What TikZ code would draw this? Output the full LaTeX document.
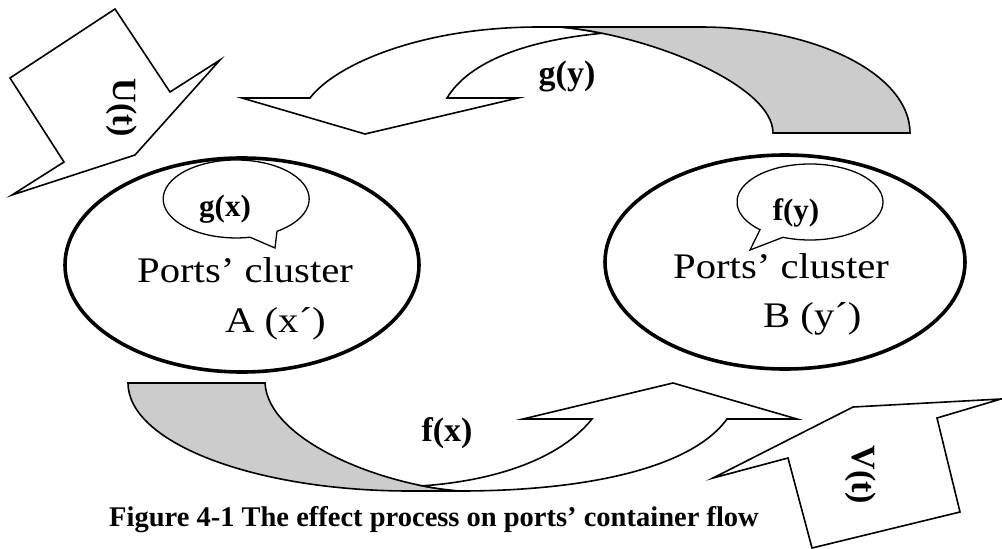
\documentclass[tikz,border=0pt]{standalone}
\usepackage{fontspec}
\setmainfont{Liberation Serif}
\newfontfamily\wideserif[FakeStretch=1.13]{Liberation Serif}
\usetikzlibrary{shapes.geometric}
\begin{document}
\begin{tikzpicture}[x=1pt,y=-1pt,
  arrowshape/.style={draw=black, line width=1.6pt, line join=miter, fill=white},
  backface/.style={draw=black, line width=1.6pt, fill=gray!40},
  cluster/.style={draw=black, line width=3.6pt, ellipse, inner sep=0pt},
  bubble/.style={draw=black, line width=1.3pt, fill=white},
  lbl/.style={font=\bfseries\fontsize{34}{40}\selectfont, inner sep=0pt},
  blbl/.style={font=\bfseries\fontsize{31}{36}\selectfont, inner sep=0pt},
  ctext/.style={font=\wideserif\fontsize{36}{42}\selectfont, inner sep=0pt, anchor=base west},
  captext/.style={font=\bfseries\fontsize{28.5}{34}\selectfont, inner sep=0pt, anchor=base west}
]
\useasboundingbox (0,0) rectangle (1002,549);

% top curved arrow g(y): front (white) part
\draw[arrowshape] (242,98) -- (310,98) .. controls (335,65) and (420,27) .. (539,27) -- (560,27)
  .. controls (573.5,28.2) and (587.7,30.3) .. (602,33.3)
  .. controls (530,40) and (470,60) .. (447,98) -- (518,98) -- (365,134) -- cycle;
% top curved arrow: back (grey) part
\draw[backface] (560,27) -- (700,27) .. controls (816,27) and (910,74.5) .. (910,133) -- (773,133)
  .. controls (773,85) and (650,35) .. (560,27) -- cycle;

% bottom curved arrow f(x): back (grey) part
\draw[backface] (128,383) -- (265,383) .. controls (268,440) and (380,485) .. (460,491) -- (410,491)
  .. controls (254.3,491) and (128,442.6) .. (128,383) -- cycle;
% bottom curved arrow: front (white) part
\draw[arrowshape] (422.4,485.8) .. controls (480,482) and (555,465) .. (592,419) -- (523,419) -- (673,383)
  -- (797,419) -- (727,419) .. controls (690,470) and (580,491) .. (460,491)
  .. controls (448,490.1) and (435.4,488.4) .. (422.4,485.8) -- cycle;

% U(t) block arrow
\draw[arrowshape] (115,9) -- (170,92) -- (220,60) -- (135,155) -- (12,195) -- (64,162) -- (10,78) -- cycle;
% V(t) block arrow
\draw[arrowshape] (713,478) -- (853,407) -- (1001,399) -- (937,418) -- (960,512) -- (812,548) -- (788,458) -- cycle;

% clusters
\node[cluster, minimum width=354pt, minimum height=214pt] (A) at (242,265) {};
\node[cluster, minimum width=360pt, minimum height=214pt] (B) at (785,262) {};

% speech bubbles
\draw[bubble] (277,231.3) arc[start angle=-56, end angle=281, x radius=73pt, y radius=39pt] -- (275,248) -- cycle;
\draw[bubble] (783,237.3) arc[start angle=248.3, end angle=586.8, x radius=73pt, y radius=38pt] -- (750,250) -- cycle;

% labels
\node[lbl, anchor=base] (gy) at (567,84) {g(y)};
\node[lbl, anchor=base] (fx) at (447,441) {f(x)};
\node[blbl, anchor=base] (gx) at (225,216) {g(x)};
\node[blbl, anchor=base] (fy) at (796,220) {f(y)};
\node[lbl, rotate=-90] (ut) at (122,108) {U(t)};
\node[lbl, rotate=-90] (vt) at (861,475) {V(t)};

\node[ctext] (a1) at (137,282) {Ports’ cluster};
\node[ctext] (a2) at (225,332) {A (x´)};
\node[ctext] (b1) at (673,278) {Ports’ cluster};
\node[ctext] (b2) at (763,327) {B (y´)};

\node[captext] (cap) at (109,526) {Figure 4-1 The effect process on ports’ container flow};
\end{tikzpicture}
\end{document}
